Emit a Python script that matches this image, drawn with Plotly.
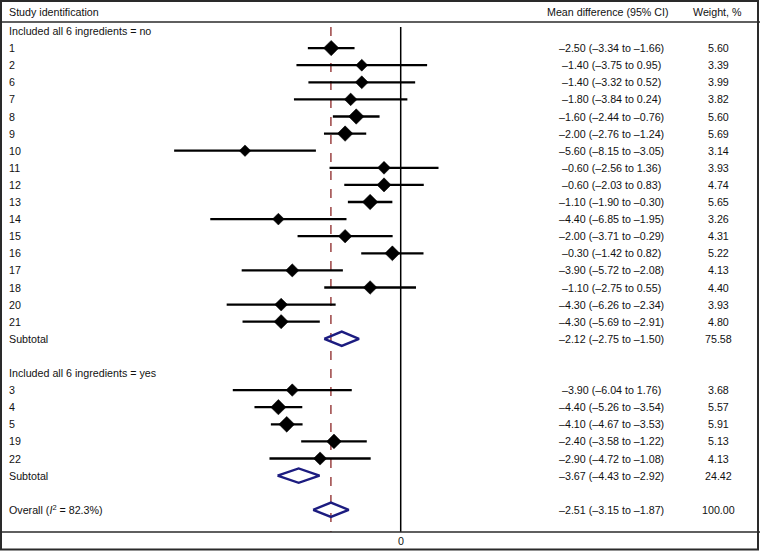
import plotly.graph_objects as go

# ---------------- data ----------------
group1_ids = ["1", "2", "6", "7", "8", "9", "10", "11", "12", "13", "14", "15", "16", "17", "18", "20", "21"]
group1_est = [-2.50, -1.40, -1.40, -1.80, -1.60, -2.00, -5.60, -0.60, -0.60, -1.10, -4.40, -2.00, -0.30, -3.90, -1.10, -4.30, -4.30]
group1_lo = [-3.34, -3.75, -3.32, -3.84, -2.44, -2.76, -8.15, -2.56, -2.03, -1.90, -6.85, -3.71, -1.42, -5.72, -2.75, -6.26, -5.69]
group1_hi = [-1.66, 0.95, 0.52, 0.24, -0.76, -1.24, -3.05, 1.36, 0.83, -0.30, -1.95, -0.29, 0.82, -2.08, 0.55, -2.34, -2.91]
group1_wt = [5.60, 3.39, 3.99, 3.82, 5.60, 5.69, 3.14, 3.93, 4.74, 5.65, 3.26, 4.31, 5.22, 4.13, 4.40, 3.93, 4.80]
group1_txt = ["–2.50 (–3.34 to –1.66)", "–1.40 (–3.75 to 0.95)", "–1.40 (–3.32 to 0.52)", "–1.80 (–3.84 to 0.24)",
              "–1.60 (–2.44 to –0.76)", "–2.00 (–2.76 to –1.24)", "–5.60 (–8.15 to –3.05)", "–0.60 (–2.56 to 1.36)",
              "–0.60 (–2.03 to 0.83)", "–1.10 (–1.90 to –0.30)", "–4.40 (–6.85 to –1.95)", "–2.00 (–3.71 to –0.29)",
              "–0.30 (–1.42 to 0.82)", "–3.90 (–5.72 to –2.08)", "–1.10 (–2.75 to 0.55)", "–4.30 (–6.26 to –2.34)",
              "–4.30 (–5.69 to –2.91)"]
group1_sub = (-2.12, -2.75, -1.50, 75.58, "–2.12 (–2.75 to –1.50)")

group2_ids = ["3", "4", "5", "19", "22"]
group2_est = [-3.90, -4.40, -4.10, -2.40, -2.90]
group2_lo = [-6.04, -5.26, -4.67, -3.58, -4.72]
group2_hi = [-1.76, -3.54, -3.53, -1.22, -1.08]   # as drawn in the figure
group2_wt = [3.68, 5.57, 5.91, 5.13, 4.13]
group2_txt = ["–3.90 (–6.04 to 1.76)", "–4.40 (–5.26 to –3.54)", "–4.10 (–4.67 to –3.53)",
              "–2.40 (–3.58 to –1.22)", "–2.90 (–4.72 to –1.08)"]
group2_sub = (-3.67, -4.43, -2.92, 24.42, "–3.67 (–4.43 to –2.92)")

overall = (-2.51, -3.15, -1.87, 100.00, "–2.51 (–3.15 to –1.87)")

group_titles = ["Included all 6 ingredients = no", "Included all 6 ingredients = yes"]
overall_label = "Overall (<i>I</i><sup>2</sup> = 82.3%)"
headers = ["Study identification", "Mean difference (95% CI)", "Weight, %"]

# ---------------- layout helpers ----------------
W, H = 760, 551
ROW0, STEP = 31.0, 17.1
PXU = 27.8          # pixels per unit
ZERO_PX = 400.7
xmin = -ZERO_PX / PXU
xmax = xmin + W / PXU
ytop = -ROW0 / STEP
ybot = (H - ROW0) / STEP

FONT = dict(family="Liberation Sans, Arial, sans-serif", size=10.7, color="#111111")
TXT_COL_X = 611 / W
WT_COL_X = 718 / W
LABEL_X = 7 / W

def py(pix):
    return 1 - pix / H

# assemble rows
rows = []  # (kind, label, est, lo, hi, wt, txt)
rows.append(("title", group_titles[0], None, None, None, None, None))
for i in range(len(group1_ids)):
    rows.append(("study", group1_ids[i], group1_est[i], group1_lo[i], group1_hi[i], group1_wt[i], group1_txt[i]))
rows.append(("sub", "Subtotal") + group1_sub)
rows.append(("blank", "", None, None, None, None, None))
rows.append(("title", group_titles[1], None, None, None, None, None))
for i in range(len(group2_ids)):
    rows.append(("study", group2_ids[i], group2_est[i], group2_lo[i], group2_hi[i], group2_wt[i], group2_txt[i]))
rows.append(("sub", "Subtotal") + group2_sub)
rows.append(("blank", "", None, None, None, None, None))
rows.append(("sub", overall_label) + overall)

fig = go.Figure()

ci_x, ci_y = [], []
mk_x, mk_y, mk_s = [], [], []
dia_x, dia_y = [], []
annotations = []

for r, (kind, label, est, lo, hi, wt, txt) in enumerate(rows):
    if label:
        annotations.append(dict(x=LABEL_X, xref="paper", y=r, yref="y", text=label,
                                showarrow=False, xanchor="left", yanchor="middle", font=FONT))
    if kind == "study":
        ci_x += [lo, hi, None]
        ci_y += [r, r, None]
        mk_x.append(est)
        mk_y.append(r)
        mk_s.append(5.0 * wt ** 0.5)
    if kind == "sub":
        h = 0.42
        dia_x += [lo, est, hi, est, lo, None]
        dia_y += [r, r - h, r, r + h, r, None]
    if txt:
        annotations.append(dict(x=TXT_COL_X, xref="paper", y=r, yref="y", text=txt,
                                showarrow=False, xanchor="center", yanchor="middle", font=FONT))
        annotations.append(dict(x=WT_COL_X, xref="paper", y=r, yref="y", text=f"{wt:.2f}",
                                showarrow=False, xanchor="center", yanchor="middle", font=FONT))

fig.add_trace(go.Scatter(x=ci_x, y=ci_y, mode="lines", line=dict(color="black", width=2.3),
                         hoverinfo="skip", showlegend=False))
fig.add_trace(go.Scatter(x=mk_x, y=mk_y, mode="markers",
                         marker=dict(symbol="diamond", size=mk_s, color="black", opacity=1,
                                     line=dict(width=0.5, color="black")),
                         showlegend=False))
fig.add_trace(go.Scatter(x=dia_x, y=dia_y, mode="lines", line=dict(color="#1c1c80", width=2.4),
                         hoverinfo="skip", showlegend=False))

# headers
annotations.append(dict(x=LABEL_X, xref="paper", y=py(12), yref="paper", text=headers[0],
                        showarrow=False, xanchor="left", yanchor="middle", font=FONT))
annotations.append(dict(x=608 / W, xref="paper", y=py(12), yref="paper", text=headers[1],
                        showarrow=False, xanchor="center", yanchor="middle", font=FONT))
annotations.append(dict(x=717 / W, xref="paper", y=py(12), yref="paper", text=headers[2],
                        showarrow=False, xanchor="center", yanchor="middle", font=FONT))
# axis tick label
annotations.append(dict(x=0, xref="x", y=py(541), yref="paper", text="0",
                        showarrow=False, xanchor="center", yanchor="middle", font=FONT))

shapes = [
    # outer frame
    dict(type="rect", xref="paper", yref="paper", x0=1 / W, x1=(W - 2) / W, y0=py(H - 1.5), y1=py(1),
         line=dict(color="#2a2a2a", width=2)),
    # header divider
    dict(type="line", xref="paper", yref="paper", x0=0, x1=1, y0=py(22), y1=py(22),
         line=dict(color="#2a2a2a", width=1.5)),
    # bottom divider
    dict(type="line", xref="paper", yref="paper", x0=0, x1=1, y0=py(532), y1=py(532),
         line=dict(color="#2a2a2a", width=1.5)),
    # zero line
    dict(type="line", xref="x", yref="paper", x0=0, x1=0, y0=py(27), y1=py(532),
         line=dict(color="black", width=1.5), layer="below"),
    # overall dashed line
    dict(type="line", xref="x", yref="paper", x0=overall[0], x1=overall[0], y0=py(27), y1=py(532),
         line=dict(color="#8b2525", width=1.3, dash="dash"), layer="below"),
]

fig.update_layout(
    width=W, height=H,
    margin=dict(l=0, r=0, t=0, b=0),
    paper_bgcolor="white", plot_bgcolor="rgba(0,0,0,0)",
    xaxis=dict(range=[xmin, xmax], visible=False, domain=[0, 1]),
    yaxis=dict(range=[ybot, ytop], visible=False, domain=[0, 1]),
    shapes=shapes,
    annotations=annotations,
    showlegend=False,
)

fig.write_html("out.html", config={"displayModeBar": False},
               post_script="document.body.style.margin='0';document.body.style.overflow='hidden';")
